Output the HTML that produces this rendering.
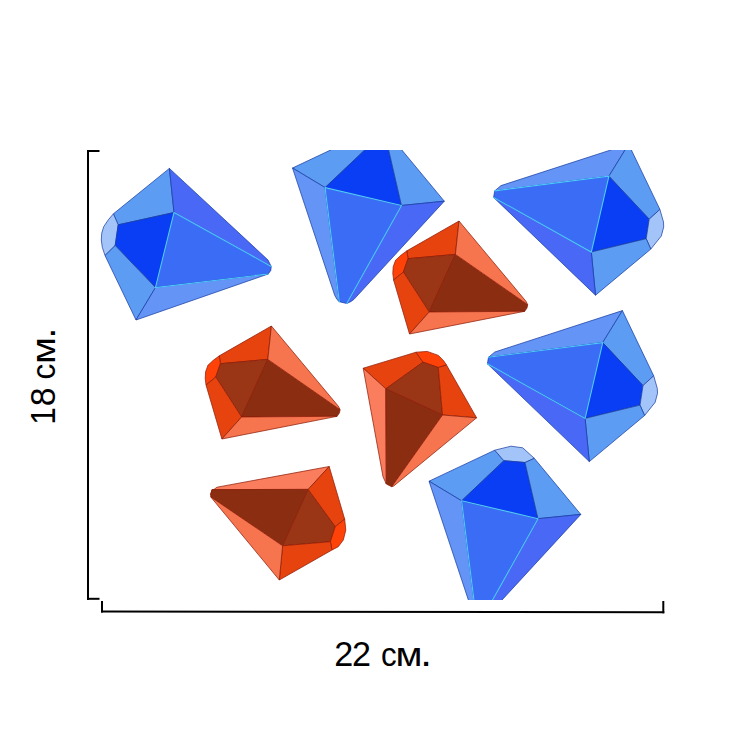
<!DOCTYPE html>
<html><head><meta charset="utf-8">
<style>
html,body{margin:0;padding:0;background:#fff;}
body{width:750px;height:750px;overflow:hidden;position:relative;}
svg{position:absolute;left:0;top:0;}
.t{font-family:"Liberation Sans",sans-serif;font-size:35px;fill:#000;}
.b1{fill:#a3c4f8}.b2{fill:#5c9cf3}.b6{fill:#6495f6}.b3{fill:#0a3ef5}.b4{fill:#3a6cf6}.b5{fill:#4a68f6}
.r1{fill:#ff4208}.r2{fill:#e6430f}.r3{fill:#f6754f}.r4{fill:#9a3515}.r6{fill:#fa7d5e}.r5{fill:#8b2d11}
.bl polygon{stroke-width:0.8;stroke-linejoin:round;stroke:#163aa0;stroke-opacity:.9}
.rd polygon{stroke-width:0.8;stroke-linejoin:round;stroke:#8c1a06;stroke-opacity:.9}
.cy{stroke:#4ec8ff;stroke-width:1.15;fill:none;stroke-linecap:round}
.ob{stroke:#1f55d8;stroke-width:0.8;fill:none;stroke-linejoin:round}
.or{stroke:#b01a00;stroke-width:0.8;fill:none;stroke-linejoin:round}
</style></head>
<body>
<svg width="750" height="750" viewBox="0 0 750 750">
<defs>
<clipPath id="clip"><rect x="0" y="150" width="750" height="450"/></clipPath>
<!-- S2: blue diamond (point down) -->
<g id="s2" class="bl">
<polygon class="b2" points="292.5,168 358.2,137 367.4,147.5 325.1,187.6"/>
<polygon class="b1" points="358.2,137 374.5,133 386.2,134.6 397.8,145.1 388.5,149.3 367.4,147.5"/>
<polygon class="b3" points="367.4,147.5 388.5,149.3 401.5,205.5 325.1,187.6"/>
<polygon class="b2" points="388.5,149.3 397.8,145.1 444.3,201.2 401.5,205.5"/>
<polygon class="b6" points="292.5,168 325.1,187.6 339.3,301.7 337,299.5 334.7,295.3"/>
<polygon class="b4" points="325.1,187.6 401.5,205.5 346.7,303.5 339.3,301.7"/>
<polygon class="b5" points="401.5,205.5 444.3,201.2 354,299.3 351,301.5 346.7,303.5"/>
<path class="cy" d="M325.1,187.6 L401.5,205.5 M325.1,187.6 L339.3,301.7 M401.5,205.5 L346.7,303.5"/>
</g>
<!-- S7: blue diamond (point left) -->
<g id="s7" class="bl">
<polygon class="b6" points="488.5,357.3 494.8,352 622.4,310.6 602.7,342.6"/>
<polygon class="b2" points="622.4,310.6 653.7,375.8 643,385.6 602.7,342.6"/>
<polygon class="b3" points="602.7,342.6 643,385.6 640,405.1 585.1,418.4"/>
<polygon class="b1" points="653.7,375.8 657.3,388.4 657.5,393.4 655.1,402.4 644.6,415.5 640,405.1 643,385.6"/>
<polygon class="b2" points="585.1,418.4 640,405.1 644.6,415.5 589.3,461.6"/>
<polygon class="b4" points="488.5,357.3 602.7,342.6 585.1,418.4 487.4,363.8"/>
<polygon class="b5" points="487.4,363.8 585.1,418.4 589.3,461.6"/>
<path class="cy" d="M488.5,357.3 L602.7,342.6 L585.1,418.4 L487.4,363.8"/>
</g>
<!-- S4: red diamond -->
<g id="s4" class="rd">
<polygon class="r2" points="459,221 406.9,250.8 408,258.7 455.4,254.4"/>
<polygon class="r1" points="406.9,250.8 400.9,255.3 395.6,260.2 393.2,266.7 392.8,273.3 393.6,280 403.4,272 408,258.7"/>
<polygon class="r4" points="455.4,254.4 408,258.7 403.4,272 429.2,312"/>
<polygon class="r2" points="393.6,280 403.4,272 429.2,312 409.5,334"/>
<polygon class="r5" points="455.4,254.4 429.2,312 524.7,311.3 527,308 527.7,304.7"/>
<polygon class="r3" points="459,221 455.4,254.4 527.7,304.7 526,301.3"/>
<polygon class="r3" points="429.2,312 409.5,334 524.7,311.3"/>
</g>
</defs>

<!-- axes -->
<rect x="87" y="150" width="2" height="450" fill="#000"/>
<rect x="87" y="150" width="12.5" height="2" fill="#000"/>
<rect x="87" y="597.8" width="12.5" height="2" fill="#000"/>
<rect x="101" y="601" width="2" height="11.5" fill="#000"/>
<polygon points="101,610.4 664.3,611.3 664.3,613.3 101,612.4" fill="#000"/>
<rect x="662.3" y="601" width="2" height="12.3" fill="#000"/>
<g class="t"><text transform="translate(334.3,666) scale(0.975,1.0)">2</text><text transform="translate(352.0,666) scale(0.975,1.0)">2</text><text transform="translate(381.0,666) scale(0.895,0.94)">с</text><text transform="translate(395.4,666) scale(1.119,0.94)">м</text><text transform="translate(420.3,666) scale(1.2,1.1)">.</text></g>
<g class="t" transform="translate(54.7,426) rotate(-90)"><text transform="translate(1.3,0) scale(0.9,1.0)">1</text><text transform="translate(19.8,0) scale(0.968,1.0)">8</text><text transform="translate(46.6,0) scale(0.9,0.94)">с</text><text transform="translate(62.0,0) scale(1.119,0.94)">м</text><text transform="translate(87.4,0) scale(1.11,1.1)">.</text></g>

<g clip-path="url(#clip)">
<!-- D1 blue top-left -->
<g class="bl">
<polygon class="b2" points="169.4,168.4 113.4,213.8 118.2,224.8 174,212.5"/>
<polygon class="b1" points="113.4,213.8 108.3,219.8 103.7,226.7 101.7,233.3 101.3,240 102.3,247.3 105,255.5 115.2,245.5 118.2,224.8"/>
<polygon class="b3" points="174,212.5 118.2,224.8 115.2,245.5 155.5,287.5"/>
<polygon class="b2" points="105,255.5 115.2,245.5 155.5,287.5 136,320"/>
<polygon class="b4" points="174,212.5 155.5,287.5 268.2,274 270.8,270.4 271.2,266.4"/>
<polygon class="b5" points="169.4,168.4 174,212.5 271.2,266.4 268,260"/>
<polygon class="b6" points="155.5,287.5 136,320 268.2,274"/>
<path class="cy" d="M174,212.5 L271.2,266.4 M174,212.5 L155.5,287.5 L268.2,274"/>
</g>
<!-- D2 -->
<use href="#s2"/>
<!-- D3 = S7 shifted -->
<use href="#s7" transform="translate(6.2,-166.4)"/>
<!-- D4 red -->
<use href="#s4"/>
<!-- D5 red -->
<use href="#s4" transform="translate(-187.6,105)"/>
<!-- D6 red center -->
<g class="rd">
<polygon class="r2" points="363.2,368.2 416,352.2 423,362.2 385.8,388.8"/>
<polygon class="r1" points="416,352.2 427.2,351.4 438.4,355.4 443.8,361 446.5,365 438.3,367.5 423,362.2"/>
<polygon class="r4" points="423,362.2 438.3,367.5 442.5,415 385.8,388.8"/>
<polygon class="r2" points="438.3,367.5 446.5,365 476.6,417.8 442.5,415"/>
<polygon class="r6" points="363.2,368.2 385.8,388.8 386.3,484 383,476.7"/>
<polygon class="r5" points="385.8,388.8 442.5,415 391.7,486.7 386.3,484"/>
<polygon class="r3" points="442.5,415 476.6,417.8 393.7,486 391.7,486.7"/>
</g>
<!-- D7 -->
<use href="#s7"/>
<!-- D8 red bottom-left -->
<g class="rd">
<polygon class="r6" points="210.6,494.6 212.6,490.4 217,487.2 329.2,466.5 308.2,489.4 212,489.6"/>
<polygon class="r5" points="212,489.6 308.2,489.4 282.6,545.8 210.8,497 210.6,494.6"/>
<polygon class="r4" points="308.2,489.4 335.3,526.6 330.4,541.7 282.6,545.8"/>
<polygon class="r2" points="329.2,466.5 344.7,519.2 335.3,526.6 308.2,489.4"/>
<polygon class="r1" points="344.7,519.2 345.8,530 343.3,540 338.3,546.7 332,550 330.4,541.7 335.3,526.6"/>
<polygon class="r2" points="282.6,545.8 330.4,541.7 332,550 279.3,580"/>
<polygon class="r3" points="210.8,497 282.6,545.8 279.3,580"/>
</g>
<!-- D9 = S2 shifted -->
<use href="#s2" transform="translate(136.5,313.2)"/>
</g>
</svg>
</body></html>
